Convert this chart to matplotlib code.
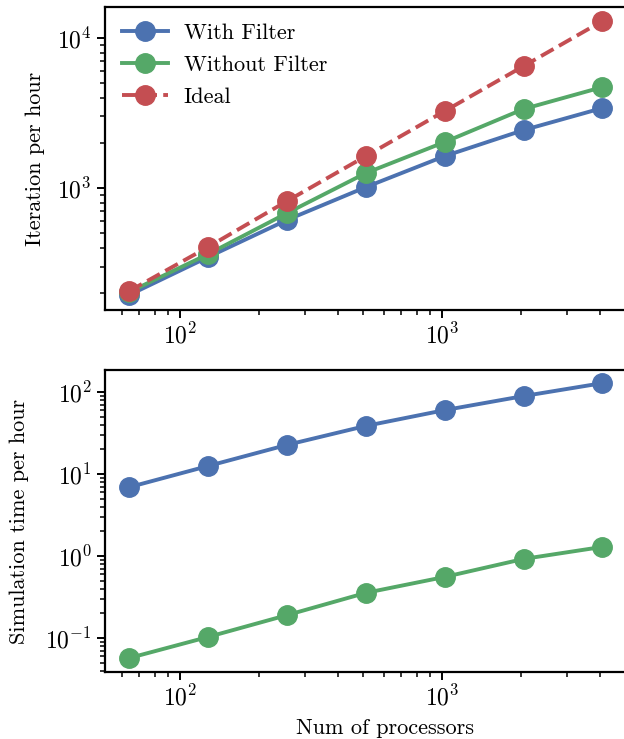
import matplotlib
matplotlib.use("Agg")
import matplotlib.pyplot as plt

plt.rcParams['font.family'] = 'cmr10'
plt.rcParams['mathtext.fontset'] = 'cm'
plt.rcParams['axes.formatter.use_mathtext'] = True

procs = [64, 128, 256, 512, 1024, 2048, 4096]

# iterations per hour
iter_with = [194, 347, 613, 1015, 1634, 2435, 3415]
iter_without = [203, 363, 681, 1259, 2027, 3365, 4710]
iter_ideal = [206, 405, 819, 1634, 3260, 6500, 12980]

# simulation time per hour
sim_with = [6.9, 12.5, 22.6, 38.5, 60, 89, 128]
sim_without = [0.057, 0.103, 0.19, 0.355, 0.555, 0.92, 1.29]

blue = '#4C72B0'
green = '#55A868'
red = '#C44E52'

fig = plt.figure(figsize=(6.24, 7.39), dpi=100)
ax1 = fig.add_axes([105/624, 1-310/739, 560/624, 303/739])
ax2 = fig.add_axes([105/624, 1-672/739, 560/624, 302/739])

lw = 2.8
ms = 14

ax1.plot(procs, iter_with, '-o', color=blue, lw=lw, ms=ms, label='With Filter')
ax1.plot(procs, iter_without, '-o', color=green, lw=lw, ms=ms, label='Without Filter')
ax1.plot(procs, iter_ideal, '--o', color=red, lw=lw, ms=ms, label='Ideal')

ax2.plot(procs, sim_with, '-o', color=blue, lw=lw, ms=ms)
ax2.plot(procs, sim_without, '-o', color=green, lw=lw, ms=ms)

for ax in (ax1, ax2):
    ax.set_xscale('log')
    ax.set_yscale('log')
    ax.set_xlim(51.7, 7100)
    for s in ax.spines.values():
        s.set_linewidth(1.6)
    ax.tick_params(which='major', length=6, width=1.4, labelsize=17)
    ax.tick_params(which='minor', length=3.5, width=1.1)

ax1.set_ylim(154, 16100)
ax2.set_ylim(0.0385, 185)

ax1.set_ylabel('Iteration per hour', fontsize=16, labelpad=9)
ax2.set_ylabel('Simulation time per hour', fontsize=16, labelpad=12)
ax2.set_xlabel('Num of processors', fontsize=16, labelpad=6)

ax1.legend(loc='upper left', frameon=False, fontsize=16, handlelength=2.1,
           handletextpad=0.7, borderaxespad=0.35, labelspacing=0.55)

plt.savefig('out.png', dpi=100)
